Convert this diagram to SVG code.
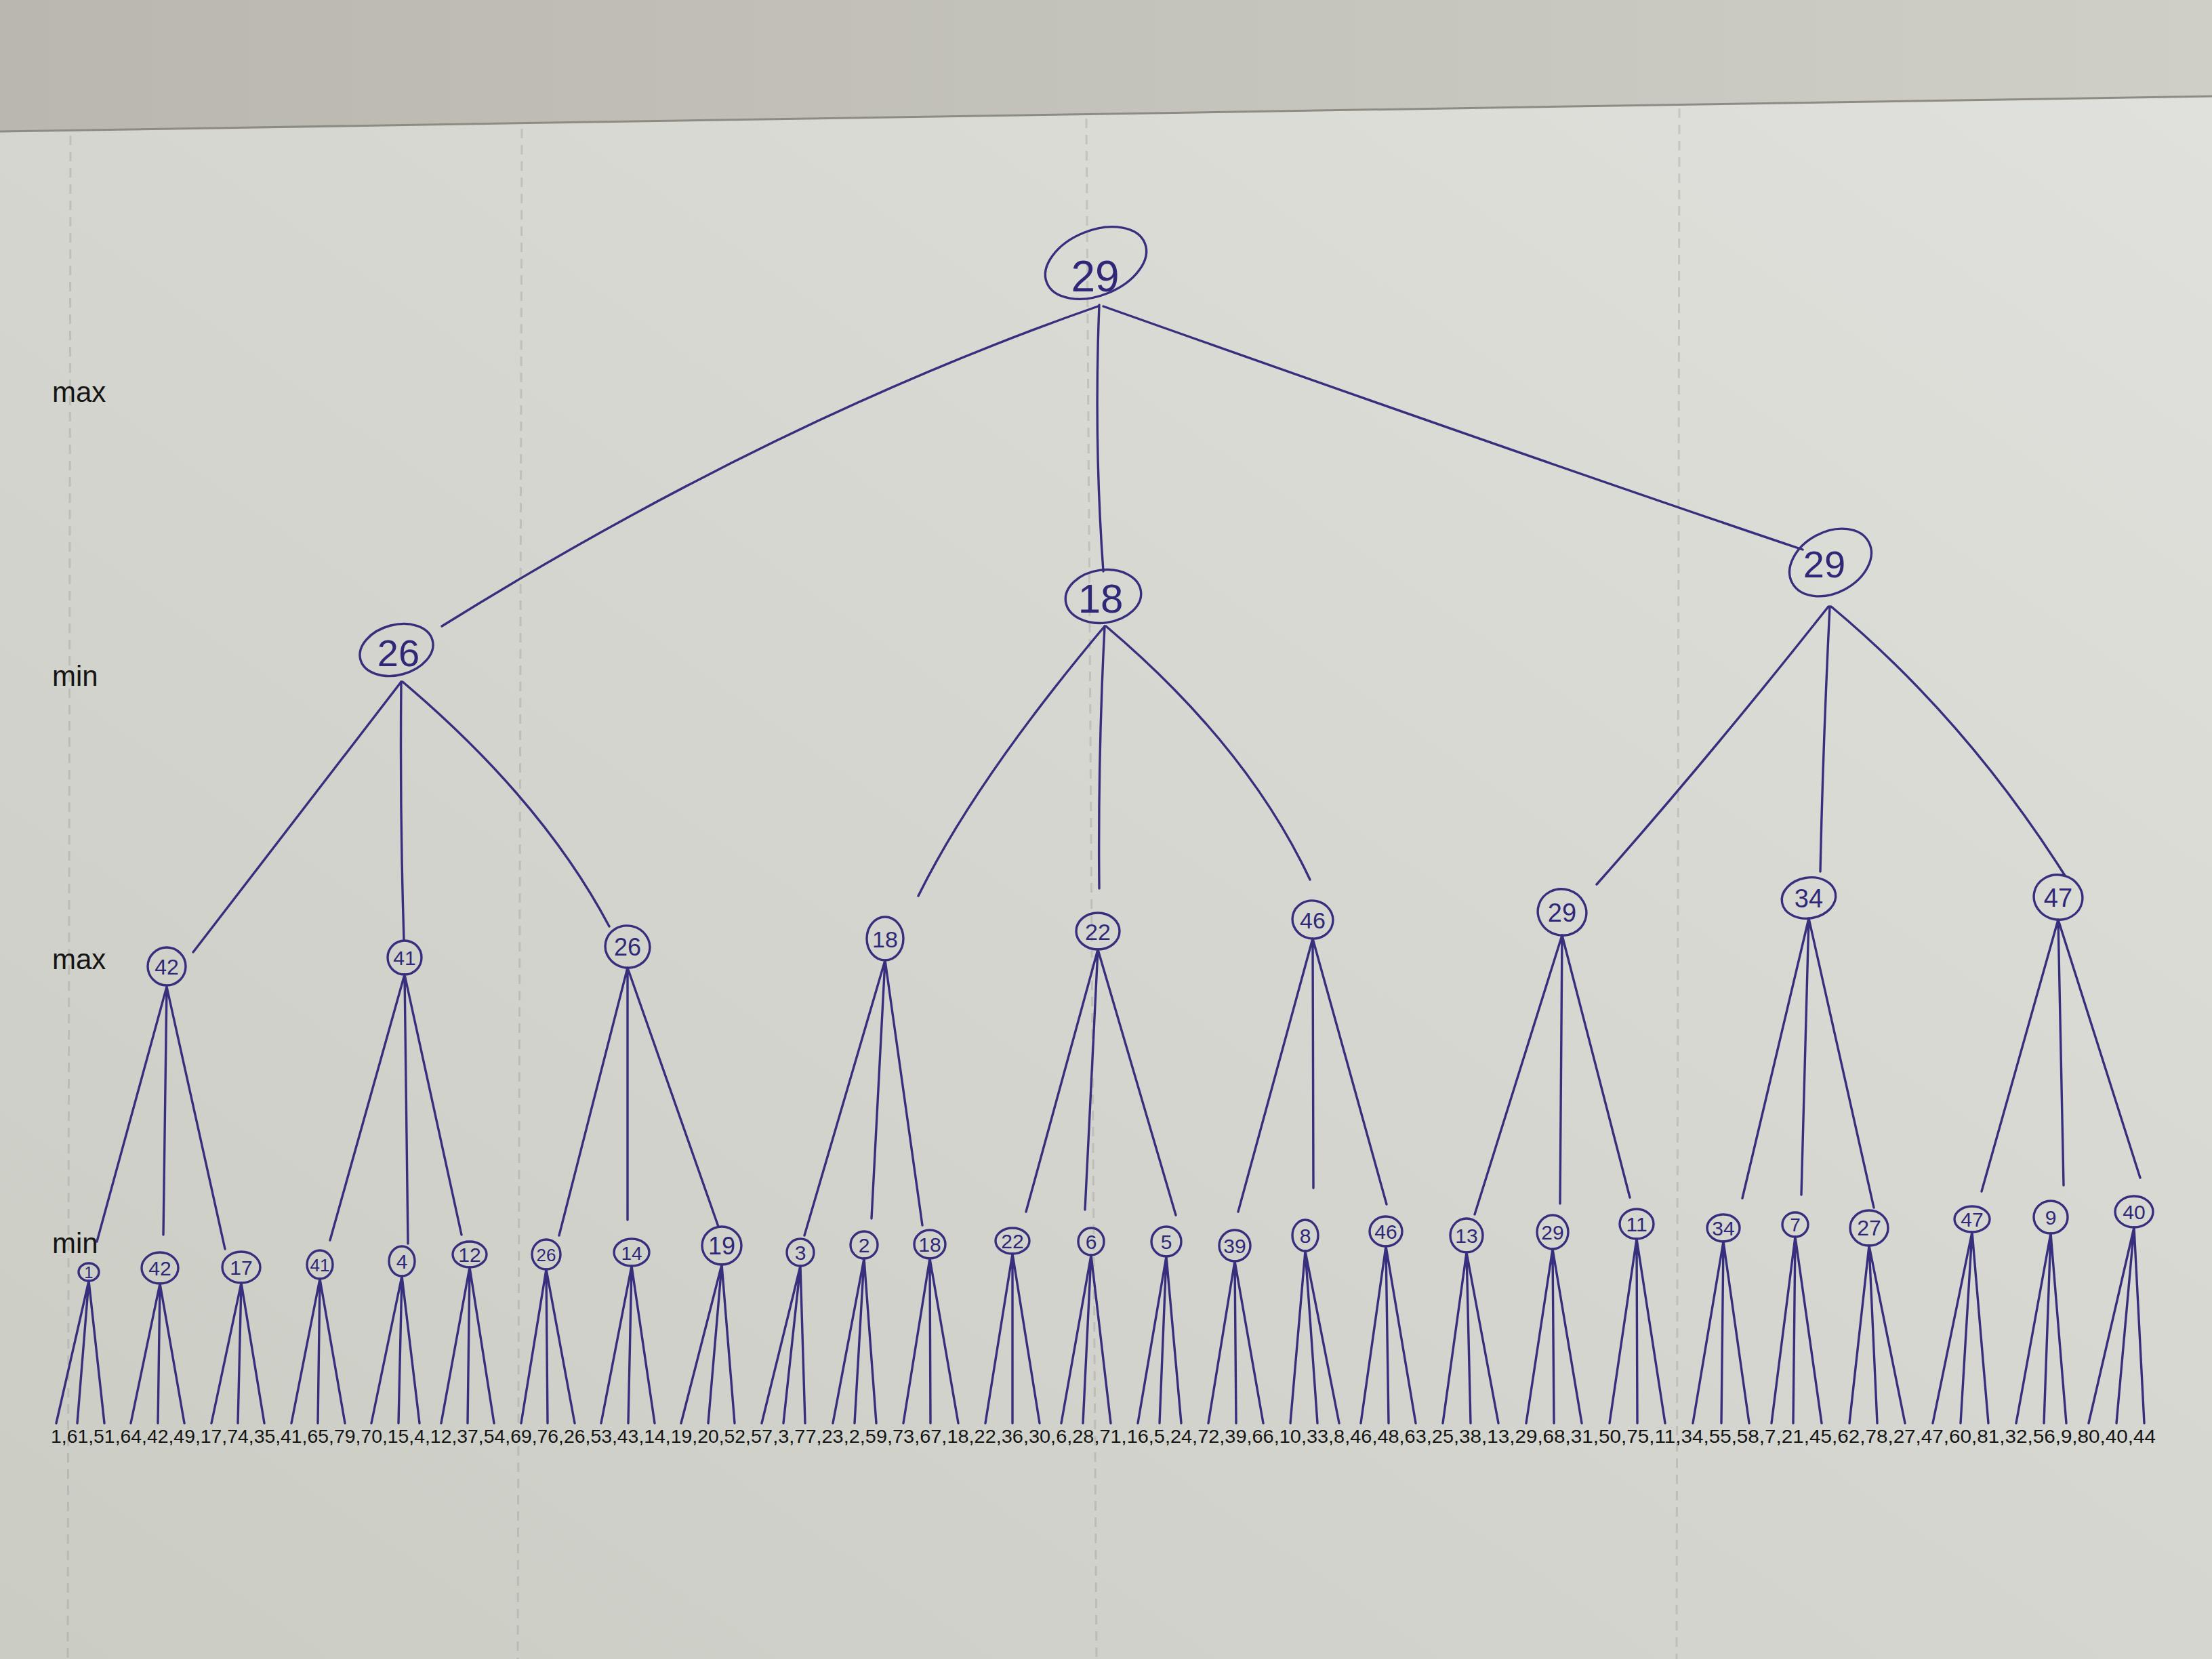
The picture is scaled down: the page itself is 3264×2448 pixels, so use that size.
<svg xmlns="http://www.w3.org/2000/svg" width="3264" height="2448" viewBox="0 0 3264 2448">
  <style>
    .ink{fill:none;stroke:#372f7d;stroke-width:3.4;stroke-linecap:round;stroke-linejoin:round}
    .hand{font-family:"Liberation Sans","DejaVu Sans",sans-serif;fill:#2f2878;text-anchor:middle}
    .lvl{font-family:"Liberation Sans",Arial,sans-serif;font-size:42px;fill:#151515}
    .leaf{font-family:"Liberation Sans",Arial,sans-serif;font-size:28px;fill:#141414}
    .fold{stroke:#8f8f88;stroke-width:3;stroke-dasharray:14 10;opacity:.3;fill:none}
  </style>
  <defs>
    <linearGradient id="paper" x1="0" y1="1" x2="1" y2="0">
      <stop offset="0" stop-color="#cbcdc5"/>
      <stop offset="0.55" stop-color="#d5d7d0"/>
      <stop offset="1" stop-color="#e0e1dc"/>
    </linearGradient>
    <linearGradient id="desk" x1="0" y1="0" x2="1" y2="0">
      <stop offset="0" stop-color="#b9b7ae"/>
      <stop offset="1" stop-color="#cfcec7"/>
    </linearGradient>
  </defs>

  <!-- backdrop and sheet of paper -->
  <rect x="0" y="0" width="3264" height="2448" fill="url(#desk)"/>
  <polygon points="0,194 3264,142 3264,2448 0,2448" fill="url(#paper)"/>
  <line x1="0" y1="194" x2="3264" y2="142" stroke="#8d8b82" stroke-width="3"/>

  <!-- faint fold lines on the sheet -->
  <g id="folds">
    <line class="fold" x1="104" y1="200" x2="100" y2="2448"/>
    <line class="fold" x1="770" y1="190" x2="764" y2="2448"/>
    <line class="fold" x1="1603" y1="175" x2="1618" y2="2448"/>
    <line class="fold" x1="2478" y1="160" x2="2474" y2="2448"/>
  </g>

  <!-- level labels -->
  <text class="lvl" x="77" y="593">max</text>
  <text class="lvl" x="77" y="1012">min</text>
  <text class="lvl" x="77" y="1430">max</text>
  <text class="lvl" x="77" y="1849">min</text>

  <!-- tree edges -->
  <g id="connectors" class="ink">
    <!-- root to min level -->
    <path d="M1620,452 Q1140,620 652,924"/>
    <path d="M1622,450 Q1614,650 1628,843"/>
    <path d="M1628,452 Q2300,690 2660,811"/>
    <!-- min level to max level -->
    <path d="M592,1006 L285,1405"/>
    <path d="M592,1006 Q590,1200 596,1387"/>
    <path d="M594,1006 Q800,1180 899,1367"/>
    <path d="M1630,924 Q1440,1150 1355,1322"/>
    <path d="M1630,924 Q1620,1120 1622,1311"/>
    <path d="M1632,924 Q1840,1100 1933,1298"/>
    <path d="M2698,895 Q2520,1120 2356,1305"/>
    <path d="M2700,895 Q2690,1100 2686,1286"/>
    <path d="M2702,895 Q2900,1060 3047,1292"/>
    <!-- max level to min row -->
    <path d="M246,1456 L143,1832 M246,1456 L241,1822 M246,1456 L332,1843"/>
    <path d="M597,1438 L487,1830 M597,1438 L602,1835 M597,1438 L681,1822"/>
    <path d="M926,1428 L825,1823 M926,1428 L926,1800 M926,1428 L1060,1810"/>
    <path d="M1306,1417 L1187,1823 M1306,1417 L1286,1798 M1306,1417 L1361,1808"/>
    <path d="M1620,1401 L1514,1788 M1620,1401 L1601,1785 M1620,1401 L1735,1793"/>
    <path d="M1937,1385 L1827,1788 M1937,1385 L1938,1753 M1937,1385 L2046,1777"/>
    <path d="M2305,1380 L2176,1792 M2305,1380 L2302,1776 M2305,1380 L2405,1767"/>
    <path d="M2669,1355 L2571,1768 M2669,1355 L2658,1763 M2669,1355 L2765,1782"/>
    <path d="M3037,1357 L2924,1758 M3037,1357 L3045,1749 M3037,1357 L3158,1738"/>
    <!-- min row to leaves -->
    <path d="M131,1890 L83,2100 M131,1890 L114,2100 M131,1890 L154,2100"/>
    <path d="M236,1894 L193,2100 M236,1894 L233,2100 M236,1894 L272,2100"/>
    <path d="M356,1893 L312,2100 M356,1893 L351,2100 M356,1893 L390,2100"/>
    <path d="M472,1887 L430,2100 M472,1887 L469,2100 M472,1887 L509,2100"/>
    <path d="M593,1883 L548,2100 M593,1883 L588,2100 M593,1883 L619,2100"/>
    <path d="M693,1870 L651,2100 M693,1870 L690,2100 M693,1870 L729,2100"/>
    <path d="M806,1873 L769,2100 M806,1873 L808,2100 M806,1873 L848,2100"/>
    <path d="M932,1868 L887,2100 M932,1868 L927,2100 M932,1868 L966,2100"/>
    <path d="M1065,1866 L1005,2100 M1065,1866 L1045,2100 M1065,1866 L1084,2100"/>
    <path d="M1181,1868 L1124,2100 M1181,1868 L1156,2100 M1181,1868 L1188,2100"/>
    <path d="M1275,1857 L1229,2100 M1275,1857 L1261,2100 M1275,1857 L1293,2100"/>
    <path d="M1372,1857 L1333,2100 M1372,1857 L1373,2100 M1372,1857 L1414,2100"/>
    <path d="M1494,1850 L1454,2100 M1494,1850 L1494,2100 M1494,1850 L1534,2100"/>
    <path d="M1610,1852 L1566,2100 M1610,1852 L1598,2100 M1610,1852 L1639,2100"/>
    <path d="M1721,1854 L1679,2100 M1721,1854 L1711,2100 M1721,1854 L1743,2100"/>
    <path d="M1822,1861 L1783,2100 M1822,1861 L1824,2100 M1822,1861 L1864,2100"/>
    <path d="M1926,1846 L1904,2100 M1926,1846 L1944,2100 M1926,1846 L1976,2100"/>
    <path d="M2045,1839 L2008,2100 M2045,1839 L2049,2100 M2045,1839 L2089,2100"/>
    <path d="M2164,1848 L2129,2100 M2164,1848 L2170,2100 M2164,1848 L2211,2100"/>
    <path d="M2291,1843 L2252,2100 M2291,1843 L2293,2100 M2291,1843 L2334,2100"/>
    <path d="M2415,1828 L2375,2100 M2415,1828 L2416,2100 M2415,1828 L2457,2100"/>
    <path d="M2543,1832 L2498,2100 M2543,1832 L2540,2100 M2543,1832 L2581,2100"/>
    <path d="M2649,1825 L2614,2100 M2649,1825 L2646,2100 M2649,1825 L2688,2100"/>
    <path d="M2758,1838 L2729,2100 M2758,1838 L2770,2100 M2758,1838 L2811,2100"/>
    <path d="M2910,1818 L2852,2100 M2910,1818 L2893,2100 M2910,1818 L2934,2100"/>
    <path d="M3026,1820 L2975,2100 M3026,1820 L3016,2100 M3026,1820 L3049,2100"/>
    <path d="M3149,1811 L3082,2100 M3149,1811 L3123,2100 M3149,1811 L3164,2100"/>
  </g>

  <!-- root (max) -->
  <g id="n-root">
    <ellipse class="ink" cx="1617" cy="388" rx="78" ry="48" transform="rotate(-22 1617 388)"/>
    <text class="hand" x="1616" y="430" font-size="64">29</text>
  </g>

  <!-- min level -->
  <g id="n-a">
    <ellipse class="ink" cx="585" cy="959" rx="55" ry="37" transform="rotate(-15 585 959)"/>
    <text class="hand" x="588" y="983" font-size="56">26</text>
  </g>
  <g id="n-b">
    <ellipse class="ink" cx="1628" cy="880" rx="56" ry="39" transform="rotate(-8 1628 880)"/>
    <text class="hand" x="1624" y="904" font-size="60">18</text>
  </g>
  <g id="n-c">
    <ellipse class="ink" cx="2701" cy="830" rx="64" ry="45" transform="rotate(-28 2701 830)"/>
    <text class="hand" x="2692" y="852" font-size="56">29</text>
  </g>

  <!-- max level -->
  <g id="n-aa"><ellipse class="ink" cx="246" cy="1426" rx="28" ry="28"/><text class="hand" x="246" y="1438" font-size="32">42</text></g>
  <g id="n-ab"><ellipse class="ink" cx="597" cy="1413" rx="25" ry="25"/><text class="hand" x="597" y="1424" font-size="30">41</text></g>
  <g id="n-ac"><ellipse class="ink" cx="926" cy="1397" rx="33" ry="31" transform="rotate(12 926 1397)"/><text class="hand" x="926" y="1410" font-size="36">26</text></g>
  <g id="n-ba"><ellipse class="ink" cx="1306" cy="1385" rx="27" ry="32"/><text class="hand" x="1306" y="1398" font-size="34">18</text></g>
  <g id="n-bb"><ellipse class="ink" cx="1620" cy="1374" rx="32" ry="27"/><text class="hand" x="1620" y="1387" font-size="34">22</text></g>
  <g id="n-bc"><ellipse class="ink" cx="1937" cy="1357" rx="30" ry="28" transform="rotate(12 1937 1357)"/><text class="hand" x="1937" y="1370" font-size="34">46</text></g>
  <g id="n-ca"><ellipse class="ink" cx="2305" cy="1346" rx="36" ry="34" transform="rotate(18 2305 1346)"/><text class="hand" x="2305" y="1360" font-size="38">29</text></g>
  <g id="n-cb"><ellipse class="ink" cx="2669" cy="1325" rx="40" ry="30" transform="rotate(-10 2669 1325)"/><text class="hand" x="2669" y="1339" font-size="38">34</text></g>
  <g id="n-cc"><ellipse class="ink" cx="3037" cy="1324" rx="36" ry="33" transform="rotate(12 3037 1324)"/><text class="hand" x="3037" y="1338" font-size="38">47</text></g>

  <!-- min row -->
  <g id="m01"><ellipse class="ink" cx="131" cy="1877" rx="15" ry="13"/><text class="hand" x="131" y="1886" font-size="24">1</text></g>
  <g id="m02"><ellipse class="ink" cx="236" cy="1871" rx="27" ry="23"/><text class="hand" x="236" y="1882" font-size="30">42</text></g>
  <g id="m03"><ellipse class="ink" cx="356" cy="1870" rx="28" ry="23"/><text class="hand" x="356" y="1881" font-size="30">17</text></g>
  <g id="m04"><ellipse class="ink" cx="472" cy="1866" rx="19" ry="21"/><text class="hand" x="472" y="1876" font-size="26">41</text></g>
  <g id="m05"><ellipse class="ink" cx="593" cy="1861" rx="19" ry="22"/><text class="hand" x="593" y="1872" font-size="30">4</text></g>
  <g id="m06"><ellipse class="ink" cx="693" cy="1851" rx="25" ry="19"/><text class="hand" x="693" y="1862" font-size="30">12</text></g>
  <g id="m07"><ellipse class="ink" cx="806" cy="1851" rx="21" ry="22"/><text class="hand" x="806" y="1861" font-size="26">26</text></g>
  <g id="m08"><ellipse class="ink" cx="932" cy="1848" rx="26" ry="20"/><text class="hand" x="932" y="1859" font-size="28">14</text></g>
  <g id="m09"><ellipse class="ink" cx="1065" cy="1838" rx="29" ry="28"/><text class="hand" x="1065" y="1851" font-size="36">19</text></g>
  <g id="m10"><ellipse class="ink" cx="1181" cy="1848" rx="20" ry="20"/><text class="hand" x="1181" y="1859" font-size="30">3</text></g>
  <g id="m11"><ellipse class="ink" cx="1275" cy="1837" rx="20" ry="20"/><text class="hand" x="1275" y="1848" font-size="30">2</text></g>
  <g id="m12"><ellipse class="ink" cx="1372" cy="1836" rx="23" ry="21"/><text class="hand" x="1372" y="1847" font-size="30">18</text></g>
  <g id="m13"><ellipse class="ink" cx="1494" cy="1831" rx="25" ry="19"/><text class="hand" x="1494" y="1842" font-size="30">22</text></g>
  <g id="m14"><ellipse class="ink" cx="1610" cy="1832" rx="19" ry="20"/><text class="hand" x="1610" y="1843" font-size="30">6</text></g>
  <g id="m15"><ellipse class="ink" cx="1721" cy="1832" rx="22" ry="22"/><text class="hand" x="1721" y="1843" font-size="30">5</text></g>
  <g id="m16"><ellipse class="ink" cx="1822" cy="1838" rx="23" ry="23"/><text class="hand" x="1822" y="1849" font-size="30">39</text></g>
  <g id="m17"><ellipse class="ink" cx="1926" cy="1823" rx="19" ry="23"/><text class="hand" x="1926" y="1834" font-size="30">8</text></g>
  <g id="m18"><ellipse class="ink" cx="2045" cy="1817" rx="24" ry="22"/><text class="hand" x="2045" y="1828" font-size="30">46</text></g>
  <g id="m19"><ellipse class="ink" cx="2164" cy="1823" rx="24" ry="25"/><text class="hand" x="2164" y="1834" font-size="30">13</text></g>
  <g id="m20"><ellipse class="ink" cx="2291" cy="1818" rx="23" ry="25"/><text class="hand" x="2291" y="1829" font-size="30">29</text></g>
  <g id="m21"><ellipse class="ink" cx="2415" cy="1806" rx="25" ry="22"/><text class="hand" x="2415" y="1817" font-size="30">11</text></g>
  <g id="m22"><ellipse class="ink" cx="2543" cy="1812" rx="24" ry="20"/><text class="hand" x="2543" y="1823" font-size="30">34</text></g>
  <g id="m23"><ellipse class="ink" cx="2649" cy="1807" rx="19" ry="18"/><text class="hand" x="2649" y="1817" font-size="28">7</text></g>
  <g id="m24"><ellipse class="ink" cx="2758" cy="1812" rx="28" ry="26"/><text class="hand" x="2758" y="1823" font-size="32">27</text></g>
  <g id="m25"><ellipse class="ink" cx="2910" cy="1799" rx="26" ry="19"/><text class="hand" x="2910" y="1810" font-size="30">47</text></g>
  <g id="m26"><ellipse class="ink" cx="3026" cy="1796" rx="25" ry="24"/><text class="hand" x="3026" y="1807" font-size="30">9</text></g>
  <g id="m27"><ellipse class="ink" cx="3149" cy="1788" rx="28" ry="23"/><text class="hand" x="3149" y="1799" font-size="30">40</text></g>

  <!-- leaf values -->
  <text id="leaves" class="leaf" y="2129"><tspan x="75" textLength="1033" lengthAdjust="spacingAndGlyphs">1,61,51,64,42,49,17,74,35,41,65,79,70,15,4,12,37,54,69,76,26,53,43,14,19,20,52,</tspan><tspan x="1108" textLength="1045" lengthAdjust="spacingAndGlyphs">57,3,77,23,2,59,73,67,18,22,36,30,6,28,71,16,5,24,72,39,66,10,33,8,46,48,63,25,</tspan><tspan x="2153" textLength="1028" lengthAdjust="spacingAndGlyphs">38,13,29,68,31,50,75,11,34,55,58,7,21,45,62,78,27,47,60,81,32,56,9,80,40,44</tspan></text>
</svg>
